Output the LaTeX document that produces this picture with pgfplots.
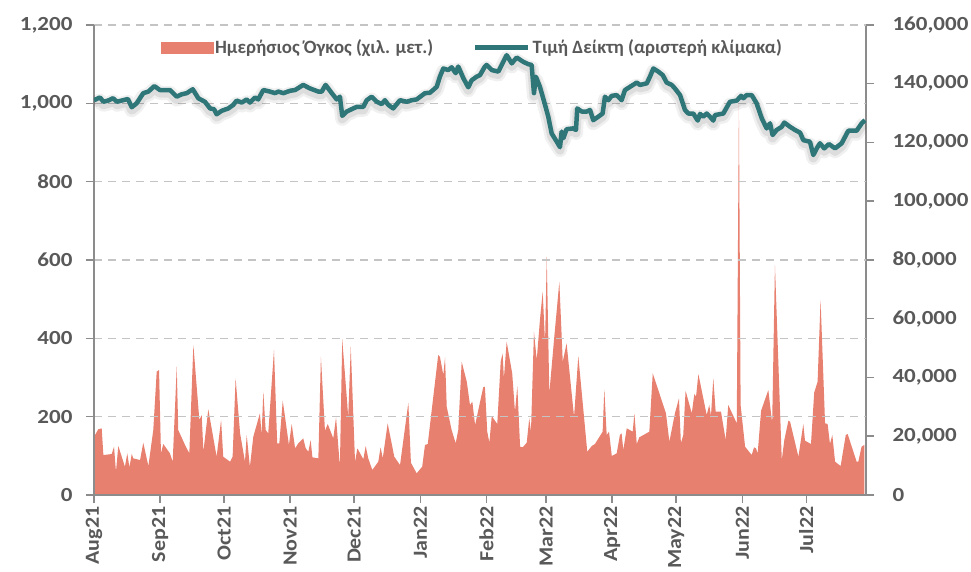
\documentclass[border=0pt]{standalone}
\usepackage{pgfplots}
\pgfplotsset{compat=1.18}
\usepackage{pgfplotstable}
\usepackage{graphicx}
\usepackage{fontspec}
\setmainfont{Carlito}
\definecolor{txt}{HTML}{595959}
\definecolor{axl}{HTML}{8C8C8C}
\definecolor{grd}{HTML}{C4C4C4}
\definecolor{areacol}{HTML}{E8806F}
\definecolor{linecol}{HTML}{2F7679}
\newcommand{\tk}[1]{\scalebox{1.15}[1]{#1}}
\newcommand{\xk}[1]{\scalebox{1.1}[1]{#1}}

% day 0 = 1 Aug 2021; volume (right scale)
\pgfplotstableread{
d v
0.47 20400
2.0 22360
3.6 22700
4.4 13600
8.3 13950
9.4 16450
10.3 7930
11.4 16680
14.5 9640
15.6 14180
16.6 9420
17.7 13950
18.4 12480
21.6 11910
23.1 17810
25.5 9870
27.8 22130
29.4 41980
30.5 42550
31.4 14180
32.5 17360
35.6 14180
36.9 11340
38.8 43680
39.5 22130
42.7 17020
44.7 14180
46.6 51060
49.4 25530
50.5 27230
51.3 14740
53.6 29170
57.5 13040
59.6 25530
60.6 13040
63.8 11340
65.0 13040
66.4 39720
68.5 21000
70.8 11340
71.6 20420
73.1 9640
74.7 19850
77.8 27800
78.6 20420
79.4 35170
80.5 22130
81.7 21000
84.4 49360
85.9 17590
86.9 17590
88.5 32100
89.6 26450
91.4 17020
92.7 24170
94.3 15890
95.8 17590
98.1 19300
99.3 15890
100.5 14740
101.6 18720
102.4 12830
105.2 12480
106.4 47080
108.3 21890
109.6 24170
112.2 19300
113.5 26450
115.3 9640
116.4 53000
118.5 33460
119.2 26450
120.4 50480
122.4 11340
123.5 15890
126.3 12150
127.4 16680
128.6 12480
130.5 8510
133.3 11340
134.4 16230
135.4 12480
137.7 24400
140.8 13040
143.5 10210
147.4 31420
148.6 11000
151.3 7380
153.9 9640
155.2 17020
156.5 17360
159.1 33460
161.4 47650
162.2 47080
163.8 40850
164.6 46850
165.4 30060
167.7 22130
169.6 17590
170.8 22130
172.4 45380
174.8 38570
176.3 30640
177.4 31760
178.7 23830
182.5 36660
183.3 36870
184.4 21550
185.4 17800
186.5 26890
189.1 24170
190.7 45380
191.6 48230
192.2 39720
193.5 52180
196.1 41430
197.4 28360
198.5 37100
199.8 16450
201.0 16230
202.9 17800
204.1 26110
204.9 21550
206.3 55590
207.6 45950
209.1 59570
210.4 69200
211.5 51640
212.3 81120
213.5 34620
215.7 52760
218.2 72610
219.8 45380
221.6 51640
225.1 26650
227.1 47320
231.3 14740
233.4 16680
234.9 17360
238.5 21550
239.3 35980
240.4 20420
241.5 21550
242.8 13280
245.1 14180
246.6 20420
247.4 21000
248.2 15320
249.8 22700
252.6 21550
253.4 27800
254.5 17360
255.7 19640
260.4 21550
262.0 41430
268.2 27800
269.8 18150
272.4 27800
274.3 32900
275.2 17590
276.3 20420
277.4 35500
280.3 27800
281.5 34380
282.3 33460
283.4 41190
287.3 27230
288.5 30640
289.3 26890
290.4 39720
291.5 28360
294.0 28360
296.2 18720
297.4 30640
301.4 24400
302.4 133000
303.2 30640
305.3 16450
308.4 13620
309.5 16230
310.4 15890
311.2 14180
312.8 28700
316.2 35740
318.0 24400
319.3 78290
322.5 11910
323.7 18720
325.6 25300
326.4 24960
330.3 13040
332.6 24170
333.4 18490
336.2 17360
337.7 34830
339.3 38570
340.7 66380
342.8 24400
344.0 24170
345.1 17360
346.2 20420
347.5 11340
350.1 9870
352.5 20420
353.4 20760
357.6 11340
358.4 11340
359.9 16450
361.2 17020
}\areadata

% index price (left scale)
\pgfplotstableread{
d p
0 1008
2.8 1015
4.4 1004
6.6 1007
8.9 1013
10.8 1004
13.6 1008
15.9 1011
17.7 990
20.0 1000
23.1 1026
25.5 1030
28.3 1044
30.9 1034
35.6 1034
38.8 1017
41.1 1023
43.5 1026
46.3 1036
48.9 1013
52.0 1004
54.4 987
56.3 985
57.5 972
59.9 981
63.0 987
65.3 996
66.9 1007
69.3 1002
71.6 1010
73.1 1002
75.5 1015
77.0 1010
79.4 1034
82.5 1030
84.9 1026
86.4 1030
88.8 1026
91.9 1032
94.3 1034
98.1 1047
101.3 1038
105.2 1030
106.8 1030
108.6 1047
111.5 1026
113.8 1010
115.3 1017
116.4 968
118.5 979
120.8 985
123.2 991
126.3 991
127.9 1008
130.2 1017
132.6 1004
134.9 998
136.4 1008
138.0 996
140.3 987
143.5 1008
146.6 1004
149.0 1008
151.3 1010
155.2 1026
157.5 1027
160.7 1042
162.2 1068
163.8 1089
166.1 1085
167.7 1092
169.6 1077
170.8 1094
173.2 1064
175.5 1041
177.1 1059
179.4 1068
181.0 1072
183.3 1094
184.1 1098
186.5 1085
189.6 1081
193.5 1123
195.9 1102
198.2 1117
201.3 1106
203.6 1100
205.2 1098
206.3 1026
207.2 1068
209.1 1042
211.5 996
213.0 966
214.6 923
217.0 902
218.5 888
219.3 928
220.1 911
221.6 934
224.7 936
226.0 932
226.6 987
228.7 979
231.0 979
232.6 983
234.1 957
236.5 966
238.5 974
239.6 1017
241.2 1008
242.7 1019
245.1 1021
247.4 1008
249.0 1034
251.3 1042
254.5 1053
256.0 1047
259.2 1051
260.7 1068
262.3 1089
264.6 1081
266.7 1072
268.5 1053
270.9 1047
272.4 1038
274.8 1021
277.1 983
278.7 974
281.0 974
283.1 956
284.2 973
285.7 966
287.3 974
288.8 966
290.4 956
291.2 970
295.1 974
298.2 1004
301.4 1007
303.4 1019
304.5 1013
306.0 1021
308.4 1021
310.7 1000
313.1 962
315.4 936
317.0 949
318.2 919
320.1 932
322.5 940
323.7 951
326.4 940
328.7 932
331.1 925
332.6 906
335.7 902
337.3 868
338.9 885
340.4 898
342.4 885
344.6 896
347.5 885
350.6 898
353.7 930
357.6 930
360.0 949
361.5 957
}\linedata

\pgfplotsset{
  common/.style={
    scale only axis, width=772pt, height=470pt,
    xmin=0, xmax=362, ymin=0,
    scaled y ticks=false, scaled x ticks=false,
    tick label style={font=\fontsize{20}{24}\selectfont\bfseries, text=txt},
    tick align=outside, major tick length=8pt,
    tick style={draw=axl, line width=1.5pt},
    axis line style={draw=axl, line width=1.5pt},
  }
}

\begin{document}
\begin{tikzpicture}
\begin{axis}[common, ymax=160000,
  axis x line=none, axis y line*=right,
  ytick={0,20000,40000,60000,80000,100000,120000,140000,160000},
  yticklabels={\tk{0},\tk{20,000},\tk{40,000},\tk{60,000},\tk{80,000},\tk{100,000},\tk{120,000},\tk{140,000},\tk{160,000}},
  yticklabel style={xshift=15pt}]
\addplot[fill=areacol, draw=none] table[x=d, y=v] {\areadata} \closedcycle;
\end{axis}
\begin{axis}[common, name=ax, ymax=1200,
  axis x line*=bottom, axis y line*=left,
  ytick={0,200,400,600,800,1000,1200},
  yticklabels={\tk{0},\tk{200},\tk{400},\tk{600},\tk{800},\tk{1,000},\tk{1,200}},
  yticklabel style={xshift=-10pt},
  xtick={0,31,61,92,122,153,184,212,243,273,304,334},
  xticklabels={\xk{Aug21},\xk{Sep21},\xk{Oct21},\xk{Nov21},\xk{Dec21},\xk{Jan22},\xk{Feb22},\xk{Mar22},\xk{Apr22},\xk{May22},\xk{Jun22},\xk{Jul22}},
  xticklabel style={rotate=90, anchor=east},
  ymajorgrids,
  grid style={dash pattern=on 8pt off 6pt, draw=grd, line width=1.5pt},
  legend style={at={(0.49,0.952)}, anchor=center, draw=none, fill=none,
    legend columns=2, font=\fontsize{18.8}{22}\selectfont\bfseries, text=txt,
    /tikz/every even column/.append style={column sep=38pt}},
  ]
\addlegendimage{legend image code/.code={\fill[areacol] (0pt,-5.5pt) rectangle (52pt,5.5pt);}}
\addlegendentry{Ημερήσιος Όγκος (χιλ. μετ.)}
\addplot[forget plot, draw=black, opacity=0.06, line width=14pt, line join=round, yshift=-3pt] table[x=d, y=p] {\linedata};
\addplot[forget plot, draw=black, opacity=0.08, line width=9pt, line join=round, yshift=-3pt] table[x=d, y=p] {\linedata};
\addplot[draw=linecol, line width=4.5pt, line join=round,
  legend image code/.code={\draw[linecol, line width=4.5pt] (0pt,0pt) -- (53pt,0pt);}] table[x=d, y=p] {\linedata};
\addlegendentry{Τιμή Δείκτη (αριστερή κλίμακα)}
\end{axis}
\pgfresetboundingbox
\path ([shift={(-94pt,-77pt)}]ax.south west) rectangle ([shift={(105pt,25pt)}]ax.north east);
\end{tikzpicture}
\end{document}
